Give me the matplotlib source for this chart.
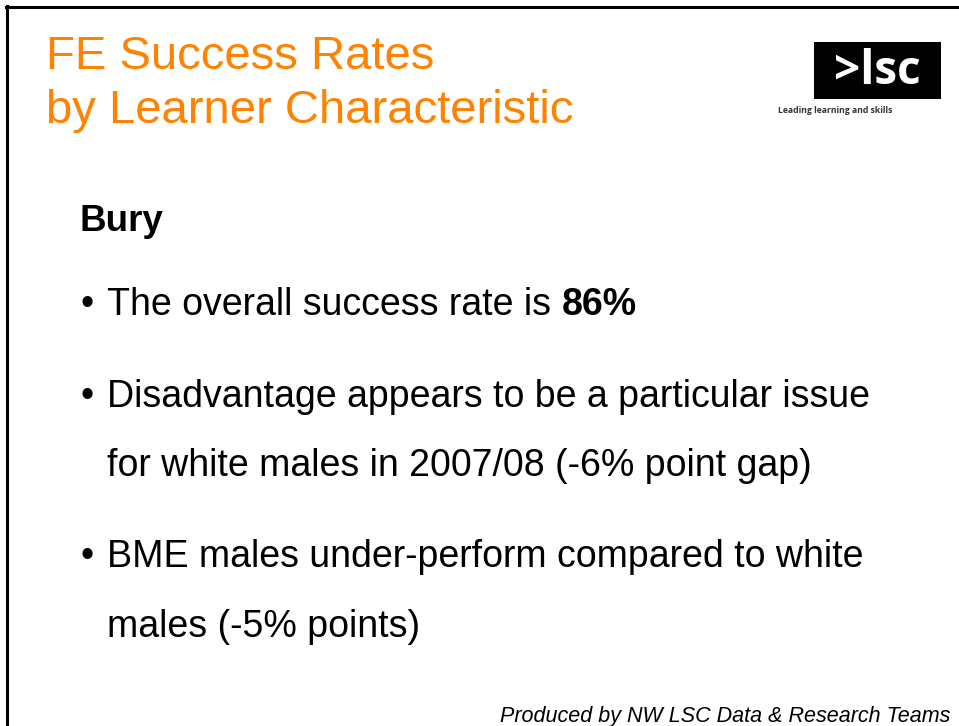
import matplotlib
matplotlib.use("Agg")
import matplotlib.pyplot as plt
from matplotlib.lines import Line2D
from matplotlib.patches import Rectangle

W, H = 959, 726

# slide text
title_lines = ["FE Success Rates", "by Learner Characteristic"]
heading = "Bury"
bullet_lines = [
    ("\u2022", "The overall success rate is ", "86%"),
    ("\u2022", "Disadvantage appears to be a particular issue", ""),
    ("", "for white males in 2007/08 (-6% point gap)", ""),
    ("\u2022", "BME males under-perform compared to white", ""),
    ("", "males (-5% points)", ""),
]
logo_text = ">lsc"
logo_tagline = "Leading learning and skills"
footer = "Produced by NW LSC Data & Research Teams"

ORANGE = "#FF8200"
FONT = "Liberation Sans"


def px(x, y):
    return x / W, 1 - y / H


fig = plt.figure(figsize=(W / 100, H / 100), dpi=100)
fig.patch.set_facecolor("white")

# frame edges (top and left only, the screenshot cuts the rest)
fig.add_artist(Line2D([6 / W, 1], [1 - 7 / H, 1 - 7 / H], transform=fig.transFigure,
                      color="black", lw=2.2))
fig.add_artist(Line2D([7 / W, 7 / W], [0, 1 - 6 / H], transform=fig.transFigure,
                      color="black", lw=2.2))

# title
for i, line in enumerate(title_lines):
    fig.text(*px(46, 69 + i * 54), line, color=ORANGE, fontsize=34,
             family=FONT, va="baseline", ha="left")

# logo
fig.add_artist(Rectangle(px(814, 99), 127 / W, 57 / H, transform=fig.transFigure,
                         facecolor="black", edgecolor="none"))
fig.text(*px(877, 84), logo_text, color="white", fontsize=33, fontweight="bold",
         family="Open Sans", va="baseline", ha="center")
fig.text(*px(778, 113), logo_tagline, color="#333333", fontsize=6.2,
         family="Open Sans", fontweight="bold", va="baseline", ha="left")

# heading
fig.text(*px(79, 231), heading, fontsize=26.5, fontweight="bold", family=FONT,
         va="baseline", ha="left")

# bullets
baselines = [315, 407, 476, 567, 637]
renderer = fig.canvas.get_renderer()
for (mark, txt, bold), yb in zip(bullet_lines, baselines):
    if mark:
        fig.text(*px(80, yb), mark, fontsize=27, family=FONT, va="baseline")
    t = fig.text(*px(107, yb), txt, fontsize=27, family=FONT, va="baseline")
    if bold:
        bb = t.get_window_extent(renderer)
        fig.text(bb.x1 / W, 1 - yb / H, bold, fontsize=27, fontweight="bold",
                 family=FONT, va="baseline")

# footer
fig.text(*px(950, 722), footer, fontsize=15.5, style="italic", family=FONT,
         va="baseline", ha="right")

fig.savefig("out.png", dpi=100, facecolor="white")
